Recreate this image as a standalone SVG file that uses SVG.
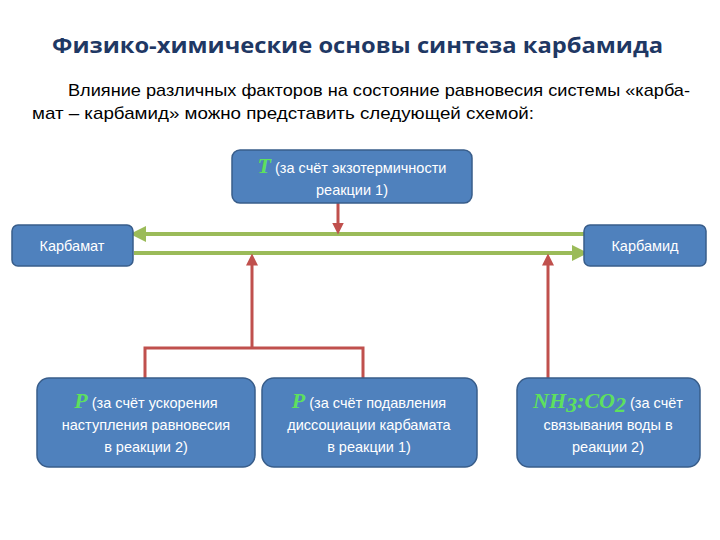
<svg xmlns="http://www.w3.org/2000/svg" width="720" height="540" viewBox="0 0 720 540">
<style>
.box{fill:#4F81BD;stroke:#385D8A;stroke-width:1.5}
.t{font-family:"Liberation Sans",Arial,sans-serif;fill:#fff;font-size:14.5px;text-anchor:middle}
.v{font-family:"Liberation Serif",serif;font-style:italic;font-weight:bold;fill:#5EE05E;font-size:22px}
.g{stroke:#9BBB59;stroke-width:4;fill:none}
.r{stroke:#C0504D;stroke-width:3;fill:none}
</style>
<defs>
<marker id="ag" markerWidth="4" markerHeight="4" refX="2" refY="2" orient="auto"><path d="M0,0 L4,2 L0,4 Z" fill="#9BBB59"/></marker>
<marker id="ar" markerWidth="4" markerHeight="4" refX="2.5" refY="2" orient="auto"><path d="M0,0 L4,2 L0,4 Z" fill="#C0504D"/></marker>
</defs>
<rect width="720" height="540" fill="#fff"/>
<text x="52" y="53" font-family="'Open Sans','Liberation Sans',sans-serif" font-weight="bold" font-size="22" fill="#1F3864" textLength="611" lengthAdjust="spacingAndGlyphs">Физико-химические основы синтеза карбамида</text>
<g font-family="'Liberation Sans',sans-serif" font-size="17" fill="#000">
<text x="68" y="96" textLength="622" lengthAdjust="spacingAndGlyphs">Влияние различных факторов на состояние равновесия системы «карба-</text>
<text x="32" y="119" textLength="502" lengthAdjust="spacingAndGlyphs">мат – карбамид» можно представить следующей схемой:</text>
</g>
<g id="connectors">
<path class="g" d="M584,234 H138" marker-end="url(#ag)"/>
<path class="g" d="M134,253 H580" marker-end="url(#ag)"/>
<path class="r" d="M338,203 V230" marker-end="url(#ar)"/>
<path class="r" d="M145,378 V348 H363 V378 M252,348 V258" marker-end="url(#ar)"/>
<path class="r" d="M548,378 V258" marker-end="url(#ar)"/>
</g>
<g id="nT"><rect class="box" x="232" y="150" width="240" height="53" rx="8"/>
<text class="t" x="352" y="173"><tspan class="v" font-size="20">T</tspan> (за счёт экзотермичности</text>
<text class="t" x="352" y="195">реакции 1)</text></g>
<g id="nKarbamat"><rect class="box" x="12" y="225" width="121" height="41" rx="6"/>
<text class="t" x="72" y="251" font-size="16">Карбамат</text></g>
<g id="nKarbamid"><rect class="box" x="584" y="225" width="122" height="41" rx="6"/>
<text class="t" x="645" y="251" font-size="16">Карбамид</text></g>
<g id="nP1"><rect class="box" x="37" y="378" width="218" height="89" rx="12"/>
<text class="t" x="146" y="408"><tspan class="v">P</tspan> (за счёт ускорения</text>
<text class="t" x="146" y="430">наступления равновесия</text>
<text class="t" x="146" y="452">в реакции 2)</text></g>
<g id="nP2"><rect class="box" x="262" y="378" width="215" height="89" rx="12"/>
<text class="t" x="369" y="408"><tspan class="v">P</tspan> (за счёт подавления</text>
<text class="t" x="369" y="430">диссоциации карбамата</text>
<text class="t" x="369" y="452">в реакции 1)</text></g>
<g id="nNH3"><rect class="box" x="517" y="378" width="183" height="89" rx="12"/>
<text class="t" x="608" y="408"><tspan class="v">NH</tspan><tspan class="v" font-size="14" dy="4">3</tspan><tspan class="v" dy="-4">:CO</tspan><tspan class="v" font-size="14" dy="4">2</tspan><tspan dy="-4"> (за счёт</tspan></text>
<text class="t" x="608" y="430">связывания воды в</text>
<text class="t" x="608" y="452">реакции 2)</text></g>
</svg>
